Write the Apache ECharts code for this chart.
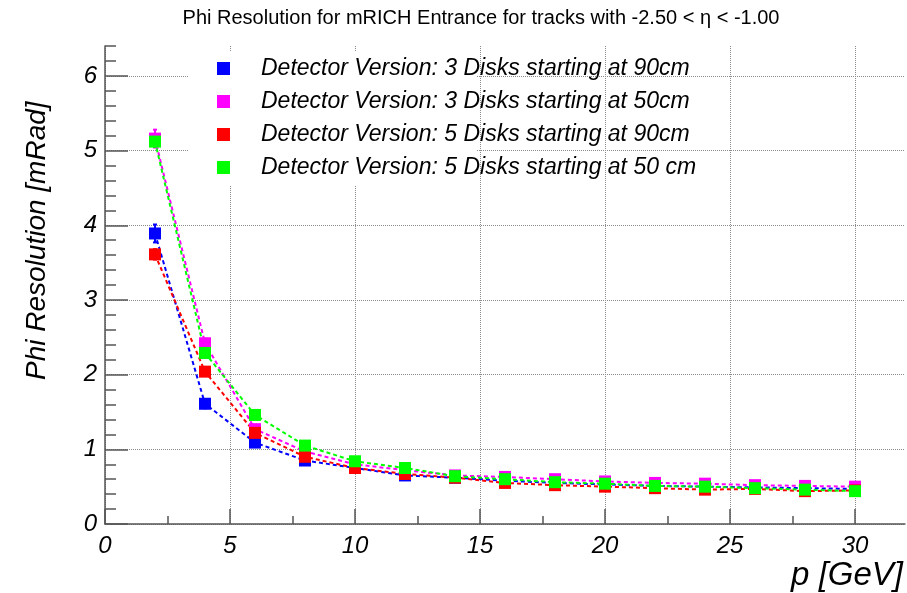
<!DOCTYPE html>
<html>
<head>
<meta charset="utf-8">
<script src="https://cdn.jsdelivr.net/npm/echarts@6/dist/echarts.min.js"></script>
<style>
  html, body { margin: 0; padding: 0; background: #ffffff; }
  #chart { width: 907px; height: 593px; }
</style>
</head>
<body>
<div id="chart"></div>
<script>
// Track momentum bins [GeV]
const momentum = [2, 4, 6, 8, 10, 12, 14, 16, 18, 20, 22, 24, 26, 28, 30];

// Phi resolution [mRad] and its uncertainty for each detector layout
const res3Disks90 = [3.89, 1.61, 1.09, 0.85, 0.75, 0.65, 0.62, 0.58, 0.55, 0.53, 0.51, 0.50, 0.49, 0.48, 0.47];
const err3Disks90 = [0.12, 0.06, 0.04, 0.03, 0.02, 0.02, 0.02, 0.02, 0.02, 0.02, 0.02, 0.02, 0.02, 0.02, 0.02];

const res3Disks50 = [5.16, 2.42, 1.27, 0.97, 0.80, 0.72, 0.65, 0.63, 0.60, 0.57, 0.55, 0.54, 0.52, 0.51, 0.50];
const err3Disks50 = [0.12, 0.06, 0.04, 0.03, 0.02, 0.02, 0.02, 0.02, 0.02, 0.02, 0.02, 0.02, 0.02, 0.02, 0.02];

const res5Disks90 = [3.61, 2.04, 1.22, 0.90, 0.75, 0.67, 0.62, 0.55, 0.52, 0.50, 0.48, 0.46, 0.47, 0.44, 0.45];
const err5Disks90 = [0.07, 0.05, 0.04, 0.03, 0.02, 0.02, 0.02, 0.02, 0.02, 0.02, 0.02, 0.02, 0.02, 0.02, 0.02];

const res5Disks50 = [5.12, 2.29, 1.46, 1.05, 0.84, 0.75, 0.64, 0.60, 0.56, 0.54, 0.51, 0.50, 0.48, 0.46, 0.44];
const err5Disks50 = [0.07, 0.05, 0.04, 0.03, 0.02, 0.02, 0.02, 0.02, 0.02, 0.02, 0.02, 0.02, 0.02, 0.02, 0.02];

const seriesNames = [
  'Detector Version: 3 Disks starting at 90cm',
  'Detector Version: 3 Disks starting at 50cm',
  'Detector Version: 5 Disks starting at 90cm',
  'Detector Version: 5 Disks starting at 50 cm'
];
const seriesColors = ['#0000ff', '#ff00ff', '#ff0000', '#00ff00'];

// Axis ticks
const xMajorTicks = [0, 5, 10, 15, 20, 25, 30];
const xMinorTicks = [2.5, 7.5, 12.5, 17.5, 22.5, 27.5];
const yMajorTicks = [0, 1, 2, 3, 4, 5, 6];

const chartTitle = 'Phi Resolution for mRICH Entrance for tracks with -2.50 < \u03b7 < -1.00';
const xTitle = 'p [GeV]';
const yTitle = 'Phi Resolution [mRad]';

const FONT = '"Liberation Sans", Arial, Helvetica, sans-serif';
const AXIS_COLOR = '#555555';
const GRID_COLOR = '#8a8a8a';

const datasets = [
  { vals: res3Disks90, errs: err3Disks90 },
  { vals: res3Disks50, errs: err3Disks50 },
  { vals: res5Disks90, errs: err5Disks90 },
  { vals: res5Disks50, errs: err5Disks50 }
];

function errorBars(idx) {
  const ds = datasets[idx];
  const color = seriesColors[idx];
  return {
    type: 'custom',
    name: 'err-' + idx,
    xAxisIndex: 0,
    yAxisIndex: 0,
    silent: true,
    z: 2,
    data: momentum.map((x, i) => [x, ds.vals[i] - ds.errs[i], ds.vals[i] + ds.errs[i]]),
    renderItem(params, api) {
      const lo = api.coord([api.value(0), api.value(1)]);
      const hi = api.coord([api.value(0), api.value(2)]);
      const st = { stroke: color, lineWidth: 2 };
      return {
        type: 'group',
        children: [
          { type: 'line', shape: { x1: lo[0], y1: lo[1], x2: hi[0], y2: hi[1] }, style: st },
          { type: 'line', shape: { x1: hi[0] - 2, y1: hi[1], x2: hi[0] + 2, y2: hi[1] }, style: st },
          { type: 'line', shape: { x1: lo[0] - 2, y1: lo[1], x2: lo[0] + 2, y2: lo[1] }, style: st }
        ]
      };
    }
  };
}

function pointsLine(idx) {
  const ds = datasets[idx];
  return {
    type: 'line',
    name: seriesNames[idx],
    xAxisIndex: 0,
    yAxisIndex: 0,
    z: 2,
    data: momentum.map((x, i) => [x, ds.vals[i]]),
    symbol: 'rect',
    symbolSize: 12,
    showSymbol: true,
    itemStyle: { color: seriesColors[idx], borderWidth: 0 },
    lineStyle: { color: seriesColors[idx], width: 2, type: [4, 3] },
    emphasis: { disabled: true }
  };
}

const series = [];
for (let i = 0; i < datasets.length; i++) {
  series.push(errorBars(i));
  series.push(pointsLine(i));
}

const tickLabelStyle = {
  fontFamily: FONT,
  fontStyle: 'italic',
  fontSize: 24,
  color: '#000000'
};

const option = {
  animation: false,
  backgroundColor: '#ffffff',
  grid: { left: 105, right: 2, top: 46, bottom: 69, containLabel: false },
  xAxis: [
    {
      type: 'value', gridIndex: 0, position: 'bottom',
      min: 0, max: 32, interval: 5,
      axisLine: { show: true, onZero: false, lineStyle: { color: AXIS_COLOR, width: 1.5 } },
      axisTick: { show: true, inside: true, length: 15, customValues: xMajorTicks, lineStyle: { color: AXIS_COLOR, width: 1.5 } },
      axisLabel: Object.assign({ customValues: xMajorTicks, margin: 10 }, tickLabelStyle),
      splitLine: { show: true, lineStyle: { type: 'dotted', color: GRID_COLOR, width: 1 } }
    },
    {
      type: 'value', gridIndex: 0, position: 'bottom',
      min: 0, max: 32,
      axisLine: { show: false, onZero: false },
      axisTick: { show: true, inside: true, length: 8, customValues: xMinorTicks, lineStyle: { color: AXIS_COLOR, width: 1.5 } },
      axisLabel: { show: false },
      splitLine: { show: false }
    }
  ],
  yAxis: [
    {
      type: 'value', gridIndex: 0, position: 'left',
      min: 0, max: 6.4, interval: 1,
      axisLine: { show: true, onZero: false, lineStyle: { color: AXIS_COLOR, width: 1.5 } },
      axisTick: { show: true, inside: true, length: 23, customValues: yMajorTicks, lineStyle: { color: AXIS_COLOR, width: 1.5 } },
      axisLabel: Object.assign({ customValues: yMajorTicks, margin: 8 }, tickLabelStyle),
      splitLine: { show: true, lineStyle: { type: 'dotted', color: GRID_COLOR, width: 1 } }
    },
    {
      type: 'value', gridIndex: 0, position: 'left',
      min: 0, max: 6.4, interval: 0.2,
      axisLine: { show: false, onZero: false },
      axisTick: { show: true, inside: true, length: 11, lineStyle: { color: AXIS_COLOR, width: 1.5 } },
      axisLabel: { show: false },
      splitLine: { show: false }
    }
  ],
  legend: {
    data: seriesNames,
    orient: 'vertical',
    left: 217,
    top: 57,
    padding: 0,
    itemWidth: 13,
    itemHeight: 13,
    itemGap: 10,
    icon: 'rect',
    selectedMode: false,
    itemStyle: { borderWidth: 0 },
    formatter: name => '{t|' + name + '}',
    textStyle: {
      rich: {
        t: {
          fontFamily: FONT,
          fontStyle: 'italic',
          fontSize: 23,
          lineHeight: 23,
          color: '#000000',
          padding: [0, 0, 0, 26]
        }
      }
    }
  },
  graphic: [
    {
      type: 'rect', z: 1, silent: true,
      shape: { x: 188, y: 52, width: 289, height: 134 },
      style: { fill: '#ffffff' }
    },
    {
      type: 'text', z: 5, silent: true,
      x: 481, y: 18,
      style: {
        text: chartTitle, fontFamily: FONT, fontSize: 20, fill: '#000000',
        textAlign: 'center', textVerticalAlign: 'middle'
      }
    },
    {
      type: 'text', z: 5, silent: true,
      x: 903, y: 592,
      style: {
        text: xTitle, fontFamily: FONT, fontStyle: 'italic', fontSize: 33, fill: '#000000',
        textAlign: 'right', textVerticalAlign: 'bottom'
      }
    },
    {
      type: 'text', z: 5, silent: true,
      x: 37, y: 380, rotation: Math.PI / 2,
      style: {
        text: yTitle, fontFamily: FONT, fontStyle: 'italic', fontSize: 28, fill: '#000000',
        textAlign: 'left', textVerticalAlign: 'middle'
      }
    }
  ],
  series: series
};

const chart = echarts.init(document.getElementById('chart'), null, { renderer: 'canvas' });
chart.setOption(option);
</script>
</body>
</html>
